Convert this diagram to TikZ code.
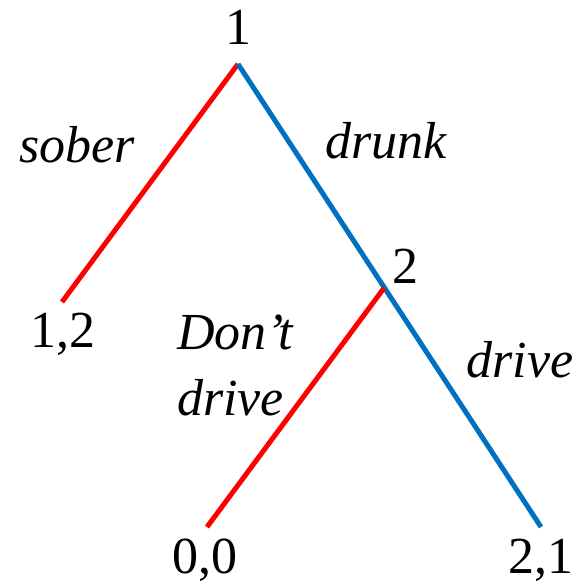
\documentclass[tikz,border=0pt]{standalone}
\usepackage{fontspec}
\setmainfont{Liberation Serif}
\usetikzlibrary{positioning}
\definecolor{sober}{RGB}{255,0,0}
\definecolor{drunk}{RGB}{0,112,192}
\tikzset{
  fig/.style={font=\fontsize{52}{66}\selectfont},
  branch/.style={line width=5pt},
  pl/.style={inner sep=0pt,anchor=base},
  act/.style={inner sep=0pt,anchor=base,font=\fontsize{52}{66}\selectfont\itshape},
}
\begin{document}
\begin{tikzpicture}[fig,x=1pt,y=-1pt]
\useasboundingbox (0,0) rectangle (581,588);

% decision points and outcomes
\coordinate (root) at (238,64);
\coordinate (d2) at (384,288);
\coordinate (o12) at (62,302);
\coordinate (o00) at (207,527);
\coordinate (o21) at (541,527);

\draw[branch,sober] (root) -- (o12);
\draw[branch,drunk] (root) -- (o21);
\draw[branch,sober] (d2) -- (o00);

% players
\node[pl] (p1) at (238,45) {1};
\node[pl] (p2) at (405,283) {2};

% moves
\node[act] (ms) at (77,163) {sober};
\node[act] (md) at (386,158) {drunk};
\node[act,anchor=base west,align=left] (mn) at (177,415) {Don’t\\drive};
\node[act] (mv) at (520,377) {drive};

% payoffs
\node[pl] (u12) at (63,347) {1,2};
\node[pl] (u00) at (205,573) {0,0};
\node[pl] (u21) at (541,573) {2,1};

\end{tikzpicture}
\end{document}
